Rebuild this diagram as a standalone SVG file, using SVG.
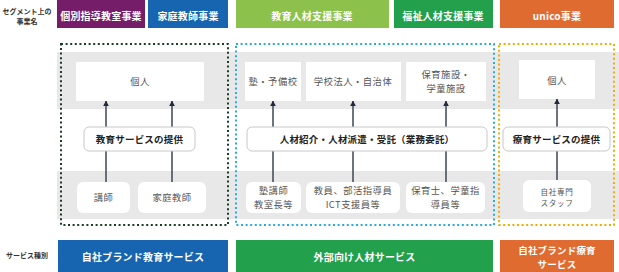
<svg xmlns="http://www.w3.org/2000/svg" width="619" height="272" viewBox="0 0 619 272">
<defs>
<style>
text{font-family:"Noto Sans CJK JP","Noto Sans",sans-serif;text-anchor:middle;dominant-baseline:central}
.hdr{font-size:10px;font-weight:700;fill:#fff;letter-spacing:0.2px}
.hdr2{font-size:9.5px;font-weight:700;fill:#fff;letter-spacing:0.2px}
.lab{font-size:7px;font-weight:700;fill:#333}
.mid{font-size:9.5px;font-weight:700;fill:#222;letter-spacing:0.2px}
.box{font-size:9.3px;fill:#555;letter-spacing:0.5px}
.small{font-size:7.6px;fill:#555;letter-spacing:0.6px}
.band{fill:#e8e8e8}
.top{fill:#fff}
.bot{fill:#fff}
.midbox{fill:#fff;stroke:#c8c8c8;stroke-width:1}
.frame{fill:none;stroke-width:2;stroke-dasharray:2 2.6}
.conn{stroke:#3b4658;stroke-width:1.5;fill:none;marker-end:url(#ah)}
</style>
<marker id="ah" viewBox="0 0 10 10" refX="9" refY="5" markerWidth="4" markerHeight="4" orient="auto" markerUnits="strokeWidth">
<path d="M0,0 L10,5 L0,10 z" fill="#1f2a3a"/>
</marker>
</defs>

<g id="labels">
<text class="lab" x="27" y="11">セグメント上の</text>
<text class="lab" x="27" y="21">事業名</text>
<text class="lab" x="27" y="255">サービス種別</text>
</g>

<g id="headers">
<g id="h-kobetsu"><rect x="57" y="0" width="88" height="28" fill="#751d68"/><text class="hdr" x="101" y="15">個別指導教室事業</text></g>
<g id="h-katei"><rect x="148" y="0" width="80" height="28" fill="#1765b0"/><text class="hdr" x="188" y="15">家庭教師事業</text></g>
<g id="h-kyoiku"><rect x="236" y="0" width="153" height="28" fill="#8cc24c"/><text class="hdr" x="312" y="15">教育人材支援事業</text></g>
<g id="h-fukushi"><rect x="394" y="0" width="99" height="28" fill="#22a04b"/><text class="hdr" x="443" y="15">福祉人材支援事業</text></g>
<g id="h-unico"><rect x="500" y="0" width="114" height="28" fill="#df6b31"/><text class="hdr" x="557" y="15">unico事業</text></g>
</g>

<g id="bands">
<rect class="band" x="57" y="52" width="562" height="57"/>
<rect class="band" x="57" y="171" width="562" height="48"/>
</g>

<g id="frames">
<rect class="frame" x="61" y="44" width="167" height="181" stroke="#173f24"/>
<rect class="frame" x="236" y="44" width="258" height="181" stroke="#2aaae2"/>
<rect class="frame" x="499" y="44" width="115" height="181" stroke="#f5aa00"/>
</g>

<g id="connectors">
<line class="conn" x1="106" y1="182" x2="106" y2="101"/>
<line class="conn" x1="172" y1="182" x2="172" y2="101"/>
<line class="conn" x1="273" y1="182" x2="273" y2="101"/>
<line class="conn" x1="353" y1="182" x2="353" y2="101"/>
<line class="conn" x1="446" y1="182" x2="446" y2="101"/>
<line class="conn" x1="557" y1="180" x2="557" y2="99"/>
</g>

<g id="top-kojin1"><rect class="top" x="76" y="62" width="128" height="39"/><text class="box" x="140" y="81">個人</text></g>
<g id="top-juku"><rect class="top" x="245" y="62" width="56" height="39"/><text class="box" x="273" y="81">塾・予備校</text></g>
<g id="top-gakko"><rect class="top" x="306" y="62" width="95" height="39"/><text class="box" x="353" y="81">学校法人・自治体</text></g>
<g id="top-hoiku"><rect class="top" x="406" y="62" width="80" height="39"/><text class="box" x="446" y="74">保育施設・</text><text class="box" x="446" y="88">学童施設</text></g>
<g id="top-kojin2"><rect class="top" x="519" y="60" width="76" height="39"/><text class="box" x="557" y="80">個人</text></g>

<g id="mid-kyoiku"><rect class="midbox" x="84" y="127" width="111" height="24" rx="5"/><text class="mid" x="139.5" y="139">教育サービスの提供</text></g>
<g id="mid-jinzai"><rect class="midbox" x="247" y="127" width="240" height="24" rx="5"/><text class="mid" x="367" y="139">人材紹介・人材派遣・受託（業務委託）</text></g>
<g id="mid-ryoiku"><rect class="midbox" x="503" y="127" width="107" height="24" rx="5"/><text class="mid" x="556.5" y="139">療育サービスの提供</text></g>

<g id="bot-koshi"><rect class="bot" x="77" y="182" width="53" height="31" rx="6"/><text class="box" x="103.5" y="197">講師</text></g>
<g id="bot-katei"><rect class="bot" x="138" y="182" width="68" height="31" rx="6"/><text class="box" x="172" y="197">家庭教師</text></g>
<g id="bot-juku"><rect class="bot" x="246" y="182" width="55" height="31" rx="6"/><text class="box" x="273.5" y="190">塾講師</text><text class="box" x="273.5" y="204">教室長等</text></g>
<g id="bot-kyoin"><rect class="bot" x="306" y="182" width="94" height="31" rx="6"/><text class="box" x="353" y="190">教員、部活指導員</text><text class="box" x="353" y="204">ICT支援員等</text></g>
<g id="bot-hoiku"><rect class="bot" x="406" y="182" width="79" height="31" rx="6"/><text class="box" x="445.5" y="190">保育士、学童指</text><text class="box" x="445.5" y="204">導員等</text></g>
<g id="bot-staff"><rect class="bot" x="523" y="180" width="68" height="32" rx="6"/><text class="small" x="557" y="191">自社専門</text><text class="small" x="557" y="202">スタッフ</text></g>

<g id="services">
<g id="s-jisha"><rect x="58" y="240" width="170" height="32" fill="#1765b0"/><text class="hdr" x="143" y="256">自社ブランド教育サービス</text></g>
<g id="s-gaibu"><rect x="236" y="240" width="257" height="32" fill="#22a04b"/><text class="hdr" x="364.5" y="256">外部向け人材サービス</text></g>
<g id="s-ryoiku"><rect x="500" y="240" width="114" height="32" fill="#df6b31"/><text class="hdr2" x="557" y="249.5">自社ブランド療育</text><text class="hdr2" x="557" y="263.5">サービス</text></g>
</g>
</svg>
